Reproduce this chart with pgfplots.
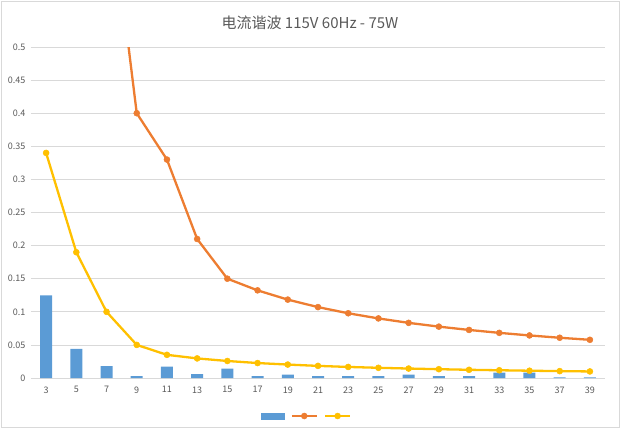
\documentclass[border=0pt]{standalone}
\usepackage{pgfplots}
\pgfplotsset{compat=1.18}
\usepackage{fontspec}
\setmainfont{Noto Sans CJK SC}
\definecolor{cblue}{HTML}{5B9BD5}
\definecolor{corange}{HTML}{ED7D31}
\definecolor{cyellow}{HTML}{FFC000}
\definecolor{cgrid}{HTML}{D9D9D9}
\definecolor{ctext}{HTML}{595959}
\pgfplotsset{
  barleg/.style={legend image code/.code={\fill[cblue] (0pt,-3.5pt) rectangle (24pt,3.5pt);}},
  lineleg/.style={legend image code/.code={\draw[mark repeat=2,mark phase=2,##1] plot coordinates {(0pt,0pt) (12.5pt,0pt) (25pt,0pt)};}},
}
\begin{document}
\begin{tikzpicture}
\begin{axis}[
  at={(0pt,0pt)}, anchor=south west,
  scale only axis, width=574pt, height=331pt,
  xmin=-0.5, xmax=18.5, ymin=0, ymax=0.5,
  xtick={0,...,18},
  xticklabels={3,5,7,9,11,13,15,17,19,21,23,25,27,29,31,33,35,37,39},
  ytick={0,0.05,...,0.5},
  yticklabels={0,0.05,0.1,0.15,0.2,0.25,0.3,0.35,0.4,0.45,0.5},
  ymajorgrids, grid style={cgrid, line width=0.75pt},
  major tick length=0pt,
  axis line style={draw=none},
  tick label style={font=\fontsize{9}{10}\selectfont, text=ctext},
  yticklabel style={xshift=-2pt},
  xticklabel style={yshift=-5pt},
  /pgf/number format/assume math mode=true,
  clip=true,
  legend style={at={(rel axis cs:0.4825,0)}, anchor=center, yshift=-38pt, draw=none, fill=none, legend columns=-1, /tikz/every even column/.append style={column sep=2pt}},
  legend cell align=left,
]
\draw[cgrid, line width=0.75pt] (rel axis cs:0,0) -- (rel axis cs:1,0);
\addplot[ybar, bar width=12pt, fill=cblue, draw=none, barleg]
 coordinates {(0,0.125) (1,0.044) (2,0.018) (3,0.003) (4,0.017) (5,0.006) (6,0.014) (7,0.003) (8,0.005) (9,0.003) (10,0.003) (11,0.003) (12,0.005) (13,0.003) (14,0.003) (15,0.008) (16,0.008) (17,0.001) (18,0.001)};
\addlegendentry{}
\addplot[corange, line width=2.3pt, mark=*, mark size=3pt, mark options={fill=corange, draw=corange, line width=0.5pt}, lineleg]
 coordinates {(0,2.30) (1,1.14) (2,0.77) (3,0.40) (4,0.33) (5,0.21) (6,0.15) (7,0.1324) (8,0.1184) (9,0.1071) (10,0.0978) (11,0.09) (12,0.0833) (13,0.0776) (14,0.0726) (15,0.0682) (16,0.0643) (17,0.0608) (18,0.0577)};
\addlegendentry{}
\addplot[cyellow, line width=2.3pt, mark=*, mark size=3pt, mark options={fill=cyellow, draw=cyellow, line width=0.5pt}, lineleg]
 coordinates {(0,0.34) (1,0.19) (2,0.10) (3,0.05) (4,0.035) (5,0.0296) (6,0.0257) (7,0.0226) (8,0.0203) (9,0.0183) (10,0.0167) (11,0.0154) (12,0.0143) (13,0.0133) (14,0.0124) (15,0.0117) (16,0.0110) (17,0.0104) (18,0.0099)};
\addlegendentry{}
\end{axis}
\draw[cgrid, line width=0.75pt] (-29.5pt,-49.5pt) rectangle (588pt,376.5pt);
\node[font=\fontsize{15}{17}\selectfont, text=ctext] at (279pt,355pt) {电流谐波 115V 60Hz - 75W};
\path (-31pt,-51pt) rectangle (590pt,378pt);
\end{tikzpicture}
\end{document}
